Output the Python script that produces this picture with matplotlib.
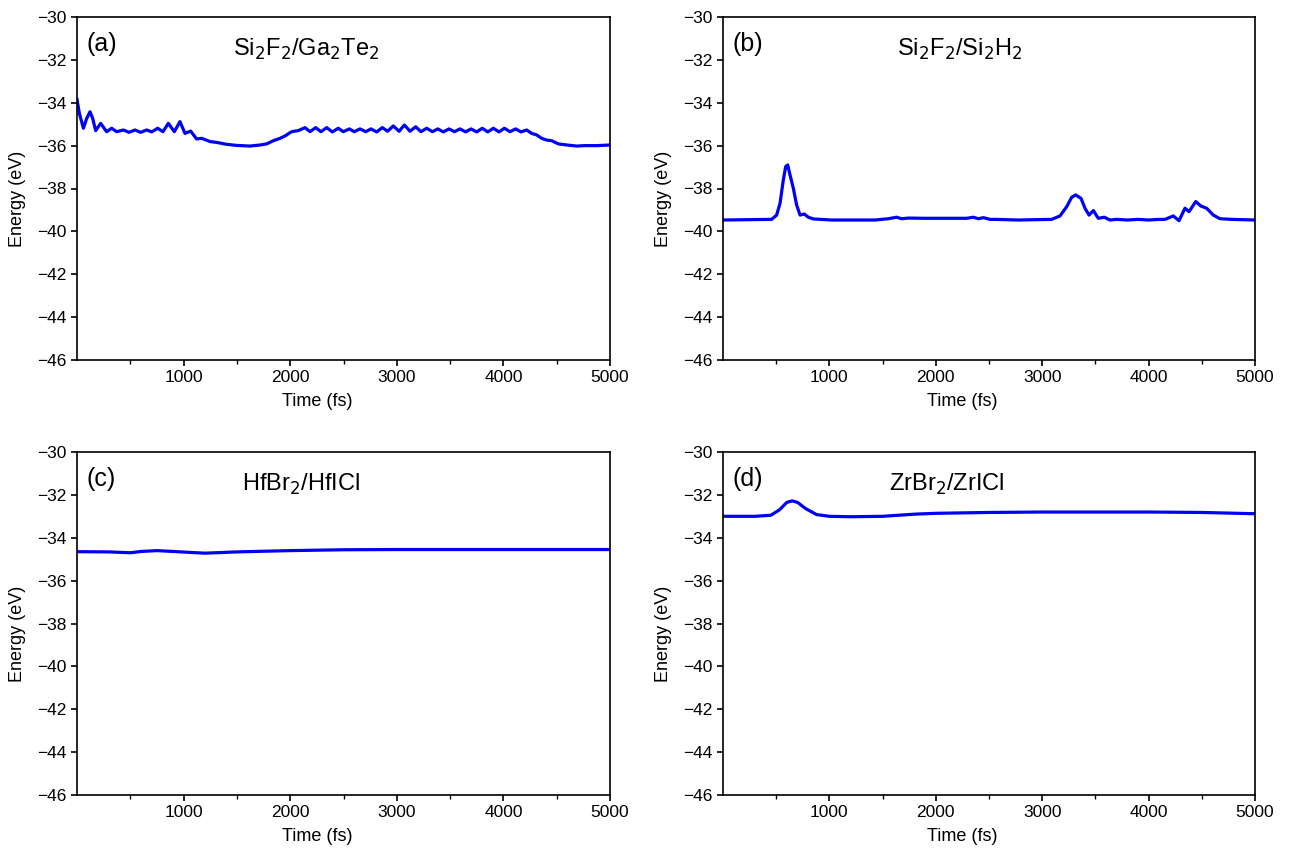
import matplotlib
matplotlib.use("Agg")
import matplotlib.pyplot as plt
from matplotlib.ticker import FixedLocator

plt.rcParams['font.family'] = ['Liberation Sans', 'DejaVu Sans']

# ---- data ----
time_a = [0, 22, 60, 91, 122, 147, 175, 222, 278, 325, 372, 435, 488, 544, 597, 653, 700, 757, 806,
          857, 913, 966, 1013, 1066, 1122, 1169, 1248, 1310, 1404, 1498, 1623, 1717, 1779, 1842, 1904,
          1951, 2013, 2076, 2139, 2186, 2239, 2289, 2342, 2395, 2451, 2498, 2555, 2601, 2655, 2708,
          2758, 2811, 2864, 2914, 2967, 3021, 3071, 3124, 3177, 3227, 3280, 3334, 3384, 3437, 3490,
          3540, 3593, 3646, 3696, 3749, 3802, 3853, 3906, 3959, 4009, 4062, 4115, 4165, 4218, 4265,
          4312, 4359, 4406, 4453, 4516, 4594, 4688, 4766, 4880, 5000]
energy_a = [-33.84, -34.49, -35.19, -34.73, -34.42, -34.73, -35.30, -34.96, -35.35, -35.19, -35.35,
            -35.27, -35.38, -35.27, -35.38, -35.27, -35.36, -35.19, -35.35,
            -34.96, -35.35, -34.88, -35.43, -35.32, -35.69, -35.66, -35.81, -35.85, -35.94, -35.99,
            -36.02, -35.97, -35.92, -35.77, -35.66,
            -35.55, -35.35, -35.30, -35.16, -35.35, -35.16, -35.35, -35.16, -35.36, -35.19, -35.35,
            -35.22, -35.35, -35.22, -35.35,
            -35.22, -35.36, -35.16, -35.33, -35.08, -35.33, -35.04, -35.33, -35.12, -35.35, -35.19,
            -35.35, -35.22, -35.36, -35.22,
            -35.35, -35.22, -35.36, -35.22, -35.36, -35.19, -35.36, -35.19, -35.36, -35.19, -35.35,
            -35.22, -35.36, -35.27, -35.43,
            -35.50, -35.66, -35.74, -35.77, -35.92, -35.97, -36.02, -36.00, -36.00, -35.97]

time_b = [0, 457, 504, 536, 567, 589, 608, 630, 661, 692, 724, 764, 802, 849, 1021, 1429, 1554, 1632,
          1679, 1742, 1900, 2100, 2290, 2353, 2400, 2447, 2509, 2556, 2775, 3089, 3167, 3230, 3277,
          3315, 3365, 3402, 3440, 3481, 3527, 3584, 3637, 3700, 3800, 3900, 4000, 4100, 4155, 4232,
          4286, 4342, 4380, 4443, 4492, 4545, 4608, 4671, 4781, 5000]
energy_b = [-39.47, -39.44, -39.24, -38.69, -37.60, -36.98, -36.90, -37.37, -37.99, -38.77, -39.24,
            -39.19, -39.34, -39.42, -39.47, -39.47, -39.41, -39.34,
            -39.41, -39.38, -39.39, -39.39, -39.39, -39.34, -39.41, -39.36, -39.44, -39.44, -39.47,
            -39.44, -39.28, -38.85, -38.41,
            -38.30, -38.46, -38.92, -39.24, -39.03, -39.39, -39.34, -39.47, -39.44, -39.47, -39.44,
            -39.47, -39.44, -39.44, -39.28,
            -39.50, -38.92, -39.08, -38.61, -38.82, -38.92, -39.24, -39.41, -39.44, -39.47]

time_c = [0, 300, 500, 600, 750, 900, 1200, 1500, 2000, 2500, 3000, 4000, 5000]
energy_c = [-34.65, -34.66, -34.70, -34.64, -34.60, -34.64, -34.72, -34.66, -34.60, -34.56, -34.55,
            -34.55, -34.55]

time_d = [0, 300, 450, 530, 600, 650, 700, 780, 880, 1000, 1200, 1500, 1800, 2000, 2500, 3000,
          3500, 4000, 4500, 5000]
energy_d = [-33.00, -33.00, -32.95, -32.70, -32.35, -32.28, -32.35, -32.65, -32.92, -33.00, -33.02,
            -33.00, -32.90, -32.86, -32.82, -32.80, -32.80, -32.80, -32.82, -32.88]

panel_tags = ['(a)', '(b)', '(c)', '(d)']
panel_titles = [r'Si$_2$F$_2$/Ga$_2$Te$_2$', r'Si$_2$F$_2$/Si$_2$H$_2$',
                r'HfBr$_2$/HfICl', r'ZrBr$_2$/ZrICl']
x_major = [1000, 2000, 3000, 4000, 5000]
x_minor = [500, 1500, 2500, 3500, 4500]
y_ticks = [-30, -32, -34, -36, -38, -40, -42, -44, -46]

series = [(time_a, energy_a), (time_b, energy_b), (time_c, energy_c), (time_d, energy_d)]

fig = plt.figure(figsize=(12.9, 8.52), dpi=100)
W, H = 1290, 852
boxes = [(77, 17, 610, 360), (723, 17, 1255, 360), (77, 452, 610, 795), (723, 452, 1255, 795)]
title_x = [0.43, 0.445, 0.42, 0.42]

for i, (x0, y0, x1, y1) in enumerate(boxes):
    ax = fig.add_axes([x0 / W, 1 - y1 / H, (x1 - x0) / W, (y1 - y0) / H])
    t, e = series[i]
    ax.plot(t, e, color='#0000f5', lw=2.3, solid_joinstyle='round')
    ax.set_xlim(0, 5000)
    ax.set_ylim(-46, -30)
    ax.xaxis.set_major_locator(FixedLocator(x_major))
    ax.xaxis.set_minor_locator(FixedLocator(x_minor))
    ax.yaxis.set_major_locator(FixedLocator(y_ticks))
    ax.tick_params(axis='both', which='major', direction='out', length=4.5, width=1.2,
                   labelsize=12.5, pad=3)
    ax.tick_params(axis='x', which='minor', direction='out', length=3, width=1.0)
    for s in ax.spines.values():
        s.set_linewidth(1.2)
    ax.set_xlabel('Time (fs)', fontsize=13)
    ax.set_ylabel('Energy (eV)', fontsize=13)
    ax.xaxis.set_label_coords(0.45, -0.095)
    ax.yaxis.set_label_coords(-0.096, 0.47)
    ax.text(0.018, 0.92, panel_tags[i], transform=ax.transAxes, fontsize=18,
            ha='left', va='center')
    ax.text(title_x[i], 0.905, panel_titles[i], transform=ax.transAxes, fontsize=17,
            ha='center', va='center')

fig.savefig('out.png', dpi=100)
